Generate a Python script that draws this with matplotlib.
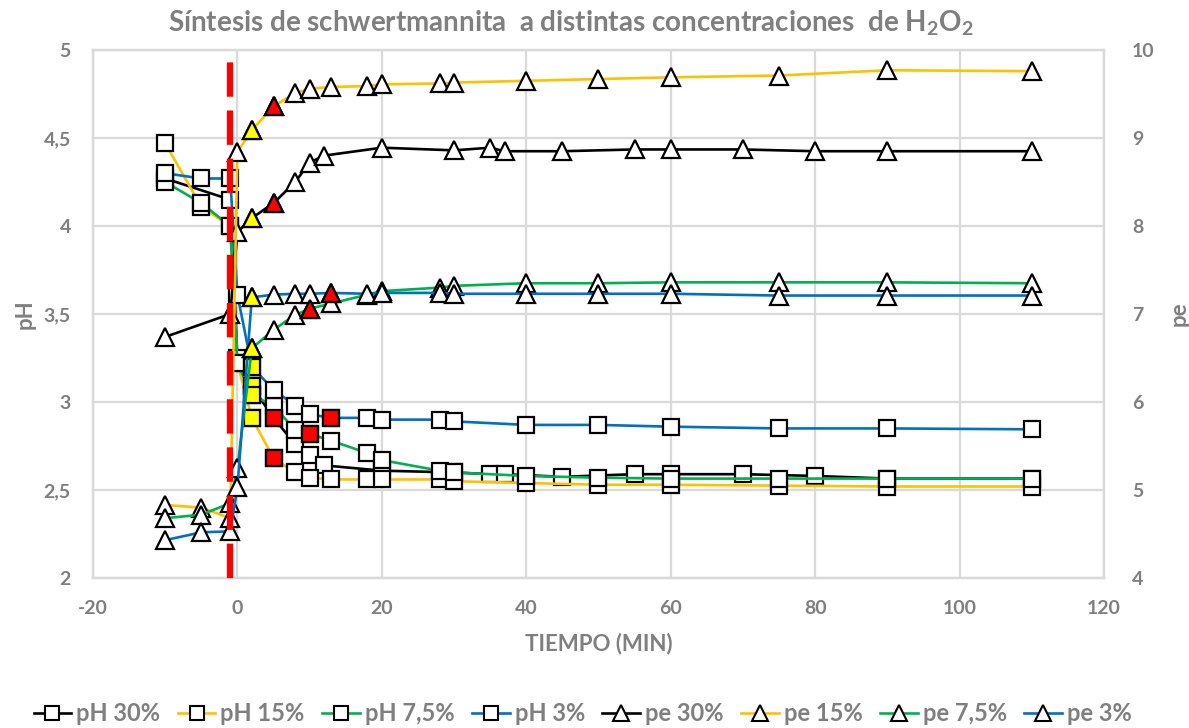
import matplotlib
matplotlib.use("Agg")
import matplotlib.pyplot as plt
from matplotlib.lines import Line2D

plt.rcParams['font.family'] = ['Lato', 'DejaVu Sans']
plt.rcParams['axes.unicode_minus'] = False
plt.rcParams['mathtext.fontset'] = 'custom'
plt.rcParams['mathtext.bf'] = 'Lato:bold'
plt.rcParams['mathtext.rm'] = 'Lato'

# Sampling times (min); H2O2 added at t = -1
t_30 = [-10, -1, 0, 2, 5, 8, 10, 12, 20, 30, 35, 37, 45, 55, 60, 70, 80, 90, 110]
t_15 = [-10, -5, -1, 0, 2, 5, 8, 10, 13, 18, 20, 28, 30, 40, 50, 60, 75, 90, 110]
t_75 = [-10, -5, -1, 0, 2, 5, 8, 10, 13, 18, 20, 28, 30, 40, 50, 60, 75, 90, 110]
t_3 = [-10, -5, -1, 0, 2, 5, 8, 10, 13, 18, 20, 28, 30, 40, 50, 60, 75, 90, 110]

ph_30 = [4.27, 4.15, 3.25, 3.09, 2.91, 2.76, 2.70, 2.64, 2.61, 2.60, 2.59, 2.59,
         2.575, 2.59, 2.59, 2.59, 2.58, 2.565, 2.565]
pe_30 = [6.74, 7.00, 7.93, 8.09, 8.26, 8.50, 8.72, 8.80, 8.89, 8.86, 8.89, 8.85,
         8.85, 8.87, 8.87, 8.87, 8.85, 8.85, 8.85]

ph_15 = [4.47, 4.11, 4.00, 3.22, 2.91, 2.68, 2.60, 2.57, 2.56, 2.56, 2.56, 2.56,
         2.55, 2.54, 2.53, 2.53, 2.525, 2.52, 2.52]
pe_15 = [4.83, 4.80, 4.68, 8.84, 9.09, 9.36, 9.51, 9.56, 9.58, 9.59, 9.61, 9.62,
         9.63, 9.65, 9.67, 9.69, 9.71, 9.77, 9.76]

ph_75 = [4.25, 4.13, 4.00, 3.22, 3.04, 2.98, 2.84, 2.82, 2.78, 2.71, 2.67, 2.61,
         2.60, 2.58, 2.57, 2.565, 2.565, 2.565, 2.565]
pe_75 = [4.68, 4.72, 4.85, 5.25, 6.61, 6.82, 6.99, 7.06, 7.12, 7.22, 7.26, 7.30,
         7.32, 7.35, 7.35, 7.36, 7.36, 7.36, 7.35]

ph_3 = [4.30, 4.27, 4.27, 3.61, 3.20, 3.07, 2.98, 2.93, 2.91, 2.91, 2.90, 2.90,
        2.89, 2.87, 2.87, 2.86, 2.85, 2.85, 2.845]
pe_3 = [4.43, 4.52, 4.53, 5.03, 7.19, 7.22, 7.23, 7.23, 7.24, 7.23, 7.24, 7.24,
        7.23, 7.23, 7.23, 7.23, 7.21, 7.21, 7.21]

# Highlighted samples: first sample after addition (yellow) and onset (red)
t_yellow = 2
t_red = {'30%': 5, '15%': 5, '7,5%': 10, '3%': 13}

t_h2o2 = -1

series = [
    ('30%', t_30, ph_30, pe_30, '#000000'),
    ('15%', t_15, ph_15, pe_15, '#FFC000'),
    ('7,5%', t_75, ph_75, pe_75, '#00B050'),
    ('3%', t_3, ph_3, pe_3, '#0070C0'),
]

GREY = '#7f7f7f'
GRID = '#d9d9d9'

fig = plt.figure(figsize=(11.89, 7.28), dpi=100)
ax = fig.add_axes([0.0782, 0.206, 0.8503, 0.7253])
ax2 = ax.twinx()

LW = 1.9
SQ = dict(marker='s', markersize=11.5, markerfacecolor='white',
          markeredgecolor='black', markeredgewidth=1.6)
TR = dict(marker='^', markersize=13, markerfacecolor='white',
          markeredgecolor='black', markeredgewidth=1.6)


def highlight(axis, t, y, name, mk):
    for tt, yy in zip(t, y):
        if tt == t_yellow:
            axis.plot([tt], [yy], linestyle='none', zorder=4,
                      **{**mk, 'markerfacecolor': '#FFFF00'})
        elif tt == t_red[name]:
            axis.plot([tt], [yy], linestyle='none', zorder=4,
                      **{**mk, 'markerfacecolor': '#FF0000'})


handles_ph = []
handles_pe = []
for name, t, ph, pe, col in series:
    h, = ax.plot(t, ph, color=col, linewidth=LW, zorder=3, **SQ)
    highlight(ax, t, ph, name, SQ)
    handles_ph.append((h, 'pH ' + name))
for name, t, ph, pe, col in series:
    h, = ax2.plot(t, pe, color=col, linewidth=LW, zorder=3, **TR)
    highlight(ax2, t, pe, name, TR)
    handles_pe.append((h, 'pe ' + name))

# H2O2 addition marker
ax2.axvline(t_h2o2, color='#FF0000', linewidth=4.5, linestyle=(0, (5.5, 2.2)),
            zorder=6)

ax.set_xlim(-20, 120)
ax.set_ylim(2, 5)
ax2.set_ylim(4, 10)
ax.set_xticks(range(-20, 121, 20))
ax.set_yticks([2, 2.5, 3, 3.5, 4, 4.5, 5])
ax.set_yticklabels(['2', '2,5', '3', '3,5', '4', '4,5', '5'])
ax2.set_yticks(range(4, 11))

ax.grid(True, color=GRID, linewidth=1.6)
ax.set_axisbelow(True)
for a in (ax, ax2):
    for s in a.spines.values():
        s.set_color(GRID)
        s.set_linewidth(1.6)
    a.tick_params(length=0, labelsize=14, labelcolor=GREY)
    for lbl in a.get_xticklabels() + a.get_yticklabels():
        lbl.set_fontweight('bold')
ax.tick_params(axis='x', pad=16)
ax.tick_params(axis='y', pad=16)
ax2.tick_params(axis='y', pad=20)

ax.set_xlabel('TIEMPO (MIN)', fontsize=16, fontweight='bold', color=GREY, labelpad=11)
ax.set_ylabel('pH', fontsize=16, fontweight='bold', color=GREY, labelpad=6)
ax2.set_ylabel('pe', fontsize=16, fontweight='bold', color=GREY, labelpad=10)

fig.text(0.48, 0.968, 'Síntesis de schwertmannita  a distintas concentraciones  de H$_\\mathbf{2}$O$_\\mathbf{2}$',
         ha='center', va='center', fontsize=20, fontweight='bold', color=GREY)

leg_items = handles_ph + handles_pe
leg_handles = []
for h, lab in leg_items:
    leg_handles.append(Line2D([], [], color=h.get_color(), linewidth=LW,
                              marker=h.get_marker(), markersize=h.get_markersize() * 0.85,
                              markerfacecolor='white', markeredgecolor='black',
                              markeredgewidth=1.5))
leg = fig.legend(leg_handles, [lab for _, lab in leg_items], loc='center',
                 bbox_to_anchor=(0.49, 0.02), ncol=8, frameon=False,
                 fontsize=17, handlelength=1.6, handletextpad=0.2,
                 columnspacing=0.75, labelcolor=GREY)
for txt in leg.get_texts():
    txt.set_fontweight('bold')

fig.savefig('out.png', dpi=100)
